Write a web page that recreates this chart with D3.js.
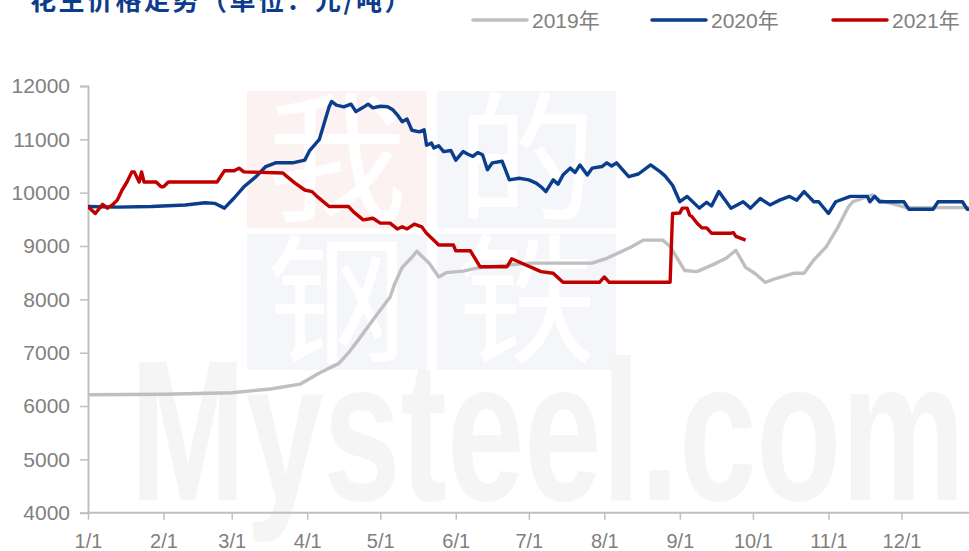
<!DOCTYPE html>
<html><head><meta charset="utf-8">
<script src="https://cdn.jsdelivr.net/npm/d3@7"></script>
<style>body{margin:0;background:#fff}svg{display:block}</style>
</head><body><svg id="c" width="969" height="551"></svg>
<script>
const titleText = "花生价格走势（单位：元/吨）";
const seriesNames = ["2019年", "2020年", "2021年"];
const seriesColors = ["#bfbfbf", "#0a3d8c", "#c00000"];
const yTickValues = [4000, 5000, 6000, 7000, 8000, 9000, 10000, 11000, 12000];
const xTickDates = ["01-01","02-01","03-01","04-01","05-01","06-01","07-01","08-01","09-01","10-01","11-01","12-01"];
const xTickLabels = ["1/1","2/1","3/1","4/1","5/1","6/1","7/1","8/1","9/1","10/1","11/1","12/1"];

const dates2019 = ["01-01","02-01","03-01","03-17","03-29","04-06","04-14","04-18","04-22","04-27","05-01","05-05","05-07","05-10","05-14","05-16","05-21","05-25","05-28","06-04","06-10","07-02","07-27","08-02","08-12","08-17","08-25","08-28","09-03","09-08","09-12","09-16","09-20","09-24","09-28","10-02","10-06","10-11","10-18","10-22","10-26","10-31","11-05","11-09","11-11","11-19","11-22","12-03","12-31"];
const values2019 = [6210,6220,6250,6320,6410,6620,6800,7000,7240,7550,7800,8040,8300,8600,8790,8900,8680,8420,8500,8530,8590,8680,8680,8770,8980,9110,9110,8990,8540,8520,8600,8680,8770,8920,8600,8480,8320,8400,8490,8490,8740,8980,9360,9720,9830,9960,9860,9720,9720];

const dates2020 = ["01-01","01-13","01-27","02-10","02-18","02-22","02-26","03-02","03-06","03-11","03-15","03-19","03-26","03-31","04-02","04-06","04-10","04-11","04-13","04-16","04-19","04-21","04-24","04-26","04-28","05-01","05-04","05-06","05-08","05-10","05-12","05-14","05-17","05-19","05-20","05-22","05-23","05-25","05-27","05-30","06-01","06-04","06-06","06-08","06-10","06-12","06-14","06-16","06-20","06-23","06-27","07-01","07-04","07-06","07-08","07-11","07-13","07-15","07-18","07-20","07-22","07-25","07-27","07-31","08-02","08-04","08-06","08-11","08-15","08-20","08-24","08-26","08-29","09-01","09-04","09-09","09-12","09-14","09-17","09-22","09-27","09-30","10-04","10-08","10-12","10-16","10-19","10-22","10-26","10-28","11-01","11-04","11-10","11-17","11-18","11-20","11-22","12-02","12-04","12-14","12-16","12-26","12-28","12-31"];
const values2020 = [9740,9730,9740,9770,9810,9800,9710,9900,10110,10300,10490,10560,10560,10610,10790,11000,11610,11710,11640,11610,11660,11520,11600,11660,11590,11620,11610,11560,11460,11330,11380,11170,11140,11180,10890,10930,10840,10880,10770,10790,10610,10770,10720,10680,10750,10710,10430,10560,10590,10240,10270,10240,10180,10110,10020,10240,10160,10330,10460,10380,10520,10330,10460,10490,10560,10500,10560,10300,10350,10520,10390,10310,10140,9830,9930,9710,9820,9750,10020,9710,9830,9710,9890,9770,9860,9930,9860,10020,9830,9830,9610,9830,9930,9930,9830,9930,9830,9830,9690,9690,9830,9830,9690,9690];

const dates2021 = ["01-01","01-04","01-07","01-09","01-11","01-13","01-15","01-17","01-19","01-20","01-22","01-23","01-24","01-29","01-31","02-01","02-03","02-23","02-26","03-02","03-04","03-06","03-22","03-23","03-27","03-31","04-03","04-05","04-10","04-18","04-20","04-24","04-28","05-01","05-05","05-08","05-10","05-12","05-15","05-18","05-20","05-23","05-25","05-31","06-01","06-07","06-11","06-22","06-24","06-30","07-03","07-06","07-11","07-15","07-30","08-01","08-03","08-28","08-29","09-01","09-02","09-04","09-05","09-06","09-08","09-10","09-12","09-14","09-22","09-23","09-24","09-28"];
const values2021 = [9740,9610,9780,9710,9770,9860,10050,10200,10390,10390,10200,10390,10200,10200,10110,10110,10200,10200,10410,10410,10460,10390,10370,10330,10180,10050,10020,9930,9740,9740,9640,9490,9520,9430,9430,9320,9360,9320,9410,9360,9240,9110,9020,9020,8910,8910,8610,8610,8760,8640,8580,8520,8490,8320,8320,8420,8320,8320,9610,9620,9710,9710,9580,9550,9430,9340,9340,9240,9240,9250,9180,9110];

const parse = d3.timeParse("%Y-%m-%d");
const toDate = s => parse("2021-" + s);
const series = [
  {name: seriesNames[0], color: seriesColors[0], pts: dates2019.map((d, i) => ({date: toDate(d), v: values2019[i]}))},
  {name: seriesNames[1], color: seriesColors[1], pts: dates2020.map((d, i) => ({date: toDate(d), v: values2020[i]}))},
  {name: seriesNames[2], color: seriesColors[2], pts: dates2021.map((d, i) => ({date: toDate(d), v: values2021[i]}))}
];

const svg = d3.select("#c");
const W = 969, H = 551;
const x = d3.scaleTime().domain([parse("2021-01-01"), parse("2022-01-01")]).range([88, 977]);
const y = d3.scaleLinear().domain([4000, 12000]).range([512.7, 86]);
const font = "'Liberation Sans', Arial, sans-serif";
const axisColor = "#bfbfbf";
const textColor = "#808080";

// watermark
const wm = svg.append("g");
const boxes = [
  {x0: 247, x1: 427, y0: 91, y1: 228, c: "#fdf2f2", t: "我"},
  {x0: 437, x1: 616, y0: 91, y1: 228, c: "#f4f6fa", t: "的"},
  {x0: 247, x1: 427, y0: 234, y1: 370, c: "#f4f6fa", t: "钢"},
  {x0: 437, x1: 616, y0: 234, y1: 370, c: "#f4f6fa", t: "铁"}
];
boxes.forEach(b => {
  wm.append("rect").attr("x", b.x0).attr("y", b.y0).attr("width", b.x1 - b.x0).attr("height", b.y1 - b.y0).attr("fill", b.c);
  wm.append("text").attr("x", (b.x0 + b.x1) / 2).attr("y", (b.y0 + b.y1) / 2 + 50)
    .attr("text-anchor", "middle").attr("font-family", "'Noto Sans CJK SC'").attr("font-weight", 400)
    .attr("font-size", 140).attr("fill", "#ffffff").text(b.t);
});
wm.append("text").attr("x", 130).attr("y", 500).attr("font-family", font).attr("font-weight", 700)
  .attr("font-size", 200).attr("textLength", 835).attr("lengthAdjust", "spacingAndGlyphs")
  .attr("fill", "#f5f5f5").text("Mysteel.com");

// axes
const yAxis = svg.append("g").attr("transform", "translate(88,0)")
  .call(d3.axisLeft(y).tickValues(yTickValues).tickSize(8).tickPadding(10).tickFormat(d3.format("d")));
const xAxis = svg.append("g").attr("transform", "translate(0,512.7)")
  .call(d3.axisBottom(x).tickValues(xTickDates.map(toDate)).tickSize(7).tickPadding(14)
    .tickFormat((d, i) => xTickLabels[i]));
[yAxis, xAxis].forEach(g => {
  g.selectAll(".domain").attr("stroke", axisColor).attr("stroke-width", 2);
  g.selectAll(".tick line").attr("stroke", axisColor).attr("stroke-width", 1.5);
  g.selectAll(".tick text").attr("fill", textColor).attr("font-family", font).attr("font-size", 20);
});
yAxis.selectAll(".tick text").attr("font-size", 21);
xAxis.select(".domain").attr("d", "M88,0H969");

// lines
const line = d3.line().x(d => x(d.date)).y(d => y(d.v));
svg.append("clipPath").attr("id", "clip").append("rect").attr("x", 88).attr("y", 0).attr("width", W - 88).attr("height", H);
const lg = svg.append("g").attr("clip-path", "url(#clip)");
series.forEach(s => {
  lg.append("path").datum(s.pts).attr("d", line).attr("fill", "none")
    .attr("stroke", s.color).attr("stroke-width", 3.4).attr("stroke-linejoin", "round");
});

// legend
const legX = [473, 652, 833];
series.forEach((s, i) => {
  svg.append("line").attr("x1", legX[i]).attr("x2", legX[i] + 54).attr("y1", 20).attr("y2", 20)
    .attr("stroke", s.color).attr("stroke-width", 3.5).attr("stroke-linecap", "round");
  svg.append("text").attr("x", legX[i] + 59).attr("y", 28).attr("fill", textColor)
    .attr("font-family", font + ", 'Noto Sans CJK SC'").attr("font-size", 21).text(s.name);
});

// title
svg.append("text").attr("x", 30).attr("y", 10).attr("font-family", "'Noto Sans CJK SC'").attr("font-weight", 700)
  .attr("font-size", 26).attr("letter-spacing", 2.5).attr("fill", "#0e3c8c").text(titleText);
</script></body></html>
